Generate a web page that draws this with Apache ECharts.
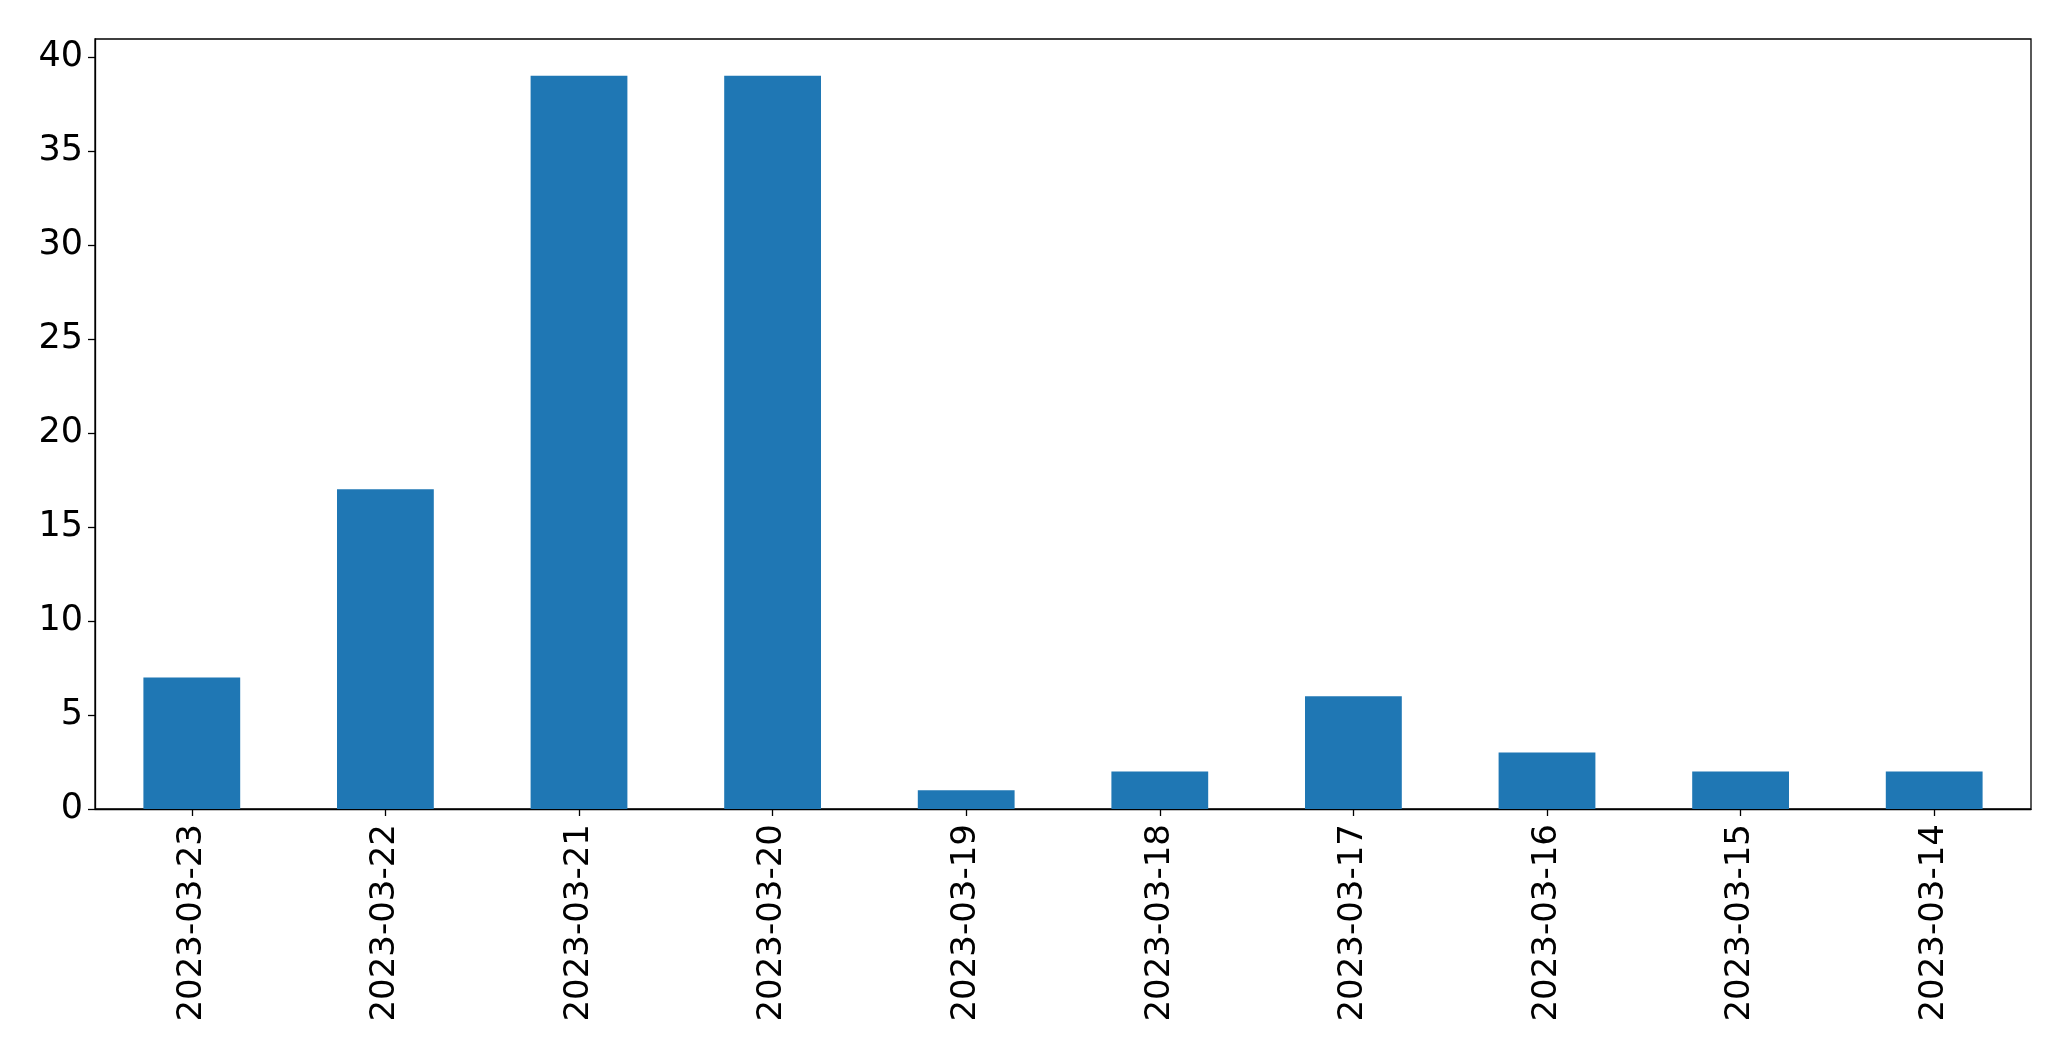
<!DOCTYPE html>
<html>
<head>
<meta charset="utf-8">
<script src="https://cdn.jsdelivr.net/npm/echarts@6/dist/echarts.min.js"></script>
<style>
  html, body { margin: 0; padding: 0; background: #fff; }
  #chart { width: 2071px; height: 1061px; }
</style>
</head>
<body>
<div id="chart"></div>
<script>
const dates = [
  "2023-03-23", "2023-03-22", "2023-03-21", "2023-03-20", "2023-03-19",
  "2023-03-18", "2023-03-17", "2023-03-16", "2023-03-15", "2023-03-14"
];
const counts = [7, 17, 39, 39, 1, 2, 6, 3, 2, 2];
const yTicks = [0, 5, 10, 15, 20, 25, 30, 35, 40];

const chart = echarts.init(document.getElementById("chart"));
const font = "DejaVu Sans";

const option = {
  animation: false,
  grid: {
    left: 95,
    right: 40,
    top: 39,
    bottom: 252,
    show: true,
    borderColor: "#000",
    borderWidth: 1.3,
  },
  xAxis: {
    type: "category",
    data: dates,
    axisLine: { show: true, lineStyle: { color: "#000", width: 1.3 } },
    axisTick: { show: true, alignWithLabel: true, length: 7, lineStyle: { color: "#000", width: 1.3 } },
    axisLabel: {
      rotate: 90,
      interval: 0,
      margin: 15,
      color: "#000",
      fontFamily: font,
      fontSize: 34,
    },
  },
  yAxis: {
    type: "value",
    min: 0,
    max: 40.95,
    interval: 5,
    splitLine: { show: false },
    axisLine: { show: true, lineStyle: { color: "#000", width: 1.3 } },
    axisTick: { show: true, length: 7, lineStyle: { color: "#000", width: 1.3 } },
    axisLabel: {
      margin: 12,
      color: "#000",
      fontFamily: font,
      fontSize: 35,
      showMaxLabel: false,
      formatter: function (v) {
        return yTicks.indexOf(v) >= 0 ? String(v) : "";
      },
    },
  },
  series: [
    {
      type: "bar",
      data: counts,
      barWidth: "50%",
      itemStyle: { color: "#1f77b4" },
    },
  ],
};
chart.setOption(option);
</script>
</body>
</html>
